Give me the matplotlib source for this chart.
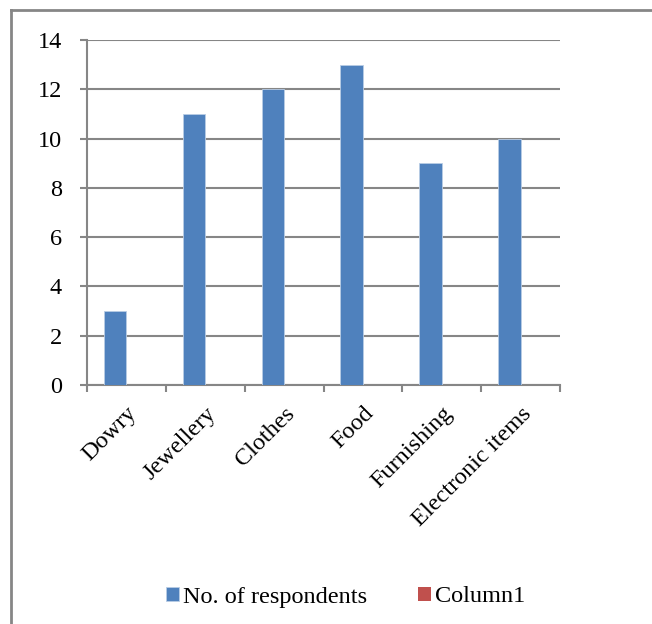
import matplotlib.pyplot as plt
from matplotlib.lines import Line2D
from matplotlib.transforms import ScaledTranslation
import numpy as np

categories = ["Dowry", "Jewellery", "Clothes", "Food", "Furnishing", "Electronic items"]
respondents = [3, 11, 12, 13, 9, 10]
column1 = [0, 0, 0, 0, 0, 0]
yticks = [0, 2, 4, 6, 8, 10, 12, 14]

plt.rcParams['font.family'] = 'serif'
plt.rcParams['font.serif'] = ['Liberation Serif', 'DejaVu Serif']
blue = '#4F81BD'
red = '#C0504D'
grey = '#868686'

fig = plt.figure(figsize=(6.52, 6.24), dpi=100)
ax = fig.add_axes([87/652, 1-385/624, (560-87)/652, (385-40)/624])

x = np.arange(len(categories))
w = 1 / 3.5
ax.bar(x - w/2, respondents, width=w, color=blue, edgecolor='#B9CDE5', linewidth=0.6,
       label='No. of respondents', zorder=3)
ax.bar(x + w/2, column1, width=w, color=red, linewidth=0, label='Column1', zorder=3)

ax.set_xlim(-0.5, len(categories) - 0.5)
ax.set_ylim(0, 14)
ax.set_yticks(yticks)
ax.yaxis.grid(True, color=grey, linewidth=1.5, zorder=0)
ax.set_axisbelow(True)

ax.set_xticks(np.arange(len(categories) + 1) - 0.5, minor=False)
ax.set_xticklabels([])
ax.set_xticks(x, minor=True)
ax.set_xticklabels(categories, minor=True, rotation=45, ha='right', va='top',
                   rotation_mode='anchor', fontsize=17.5)
shift = ScaledTranslation(-5/100, -4/100, fig.dpi_scale_trans)
for lbl in ax.get_xticklabels(minor=True):
    lbl.set_transform(lbl.get_transform() + shift)
ax.tick_params(axis='x', which='minor', length=0, pad=13)
ax.tick_params(axis='x', which='major', length=5, width=1.5, color=grey, direction='out')
ax.tick_params(axis='y', length=5, width=1.5, color=grey, direction='out', pad=13, labelsize=17.5)

for s in ['top', 'right']:
    ax.spines[s].set_visible(False)
for s in ['left', 'bottom']:
    ax.spines[s].set_color(grey)
    ax.spines[s].set_linewidth(1.5)

fig.legend(loc='center', bbox_to_anchor=(0.53, 1-597/624), ncol=2, frameon=False,
           fontsize=17.5, handlelength=0.55, handleheight=0.55, handletextpad=0.15,
           columnspacing=2.1)

fig.add_artist(Line2D([11/652, 11/652], [0, 1-10/624], color=grey, linewidth=2))
fig.add_artist(Line2D([11/652, 1], [1-10/624, 1-10/624], color=grey, linewidth=2))

fig.savefig('out.png', dpi=100)
